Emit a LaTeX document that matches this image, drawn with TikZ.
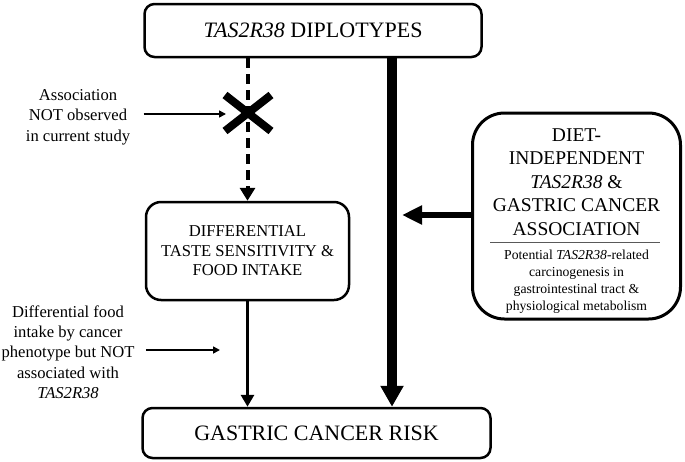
\documentclass[tikz,border=0pt]{standalone}
\usepackage{fontspec}
\setmainfont{LiberationSerif}[Extension=.ttf, UprightFont=*-Regular, ItalicFont=*-Italic,
  BoldFont=*-Bold, BoldItalicFont=*-BoldItalic]
\usetikzlibrary{arrows.meta,calc}
\tikzset{
  box/.style={draw, line width=2.5pt, rounded corners=10pt, align=center, inner sep=0pt},
  note/.style={align=center, font=\fontsize{16.6}{20.3}\selectfont},
  thin arrow/.style={line width=1.6pt, -{Triangle[length=7pt,width=7pt]}},
}
\newcommand{\gene}{\textit{TAS2R38}}

\begin{document}
\begin{tikzpicture}[x=1pt, y=-1pt]
  \useasboundingbox (0,0) rectangle (685,461);

  % boxes
  \node[box, minimum width=337pt, minimum height=53pt,
        font=\fontsize{22}{24}\selectfont] (diplo) at (313,30.5) {\gene{} DIPLOTYPES};
  \node[box, minimum width=348pt, minimum height=50pt,
        font=\fontsize{22}{24}\selectfont] (risk) at (316.5,433) {GASTRIC CANCER RISK};
  \node[box, rounded corners=15pt, minimum width=203pt, minimum height=98pt,
        font=\fontsize{16.6}{19.5}\selectfont] (taste) at (247.5,251)
        {DIFFERENTIAL\\TASTE SENSITIVITY \&\\FOOD INTAKE};
  \node[box, line width=3pt, rounded corners=32pt, minimum width=208pt, minimum height=206pt]
        (diet) at (576.5,216) {};
  \node[align=center, font=\fontsize{19.5}{23.5}\selectfont] (dietTitle) at (576.5,182)
        {DIET-\\INDEPENDENT\\\gene{} \&\\GASTRIC CANCER\\ASSOCIATION};
  \node[align=center, font=\fontsize{13.7}{17}\selectfont] (dietNote) at (576.5,282)
        {Potential \gene{}-related\\carcinogenesis in\\gastrointestinal tract \&\\physiological metabolism};
  \draw[line width=1pt, gray!70!black] (490,242) -- (660,242);

  % side notes
  \node[note] (assoc) at (78,117) {Association\\NOT observed\\in current study};
  \node[note] (food) at (68,352) {Differential food\\intake by cancer\\phenotype but NOT\\associated with\\\gene};

  % connectors
  \coordinate (cross) at (248,113);
  \coordinate (thick) at (392,0);
  \draw[line width=4pt, dash pattern=on 10pt off 6pt, -{Triangle[length=13pt,width=15pt]}]
    (diplo.south -| taste.north) -- (taste.north);
  \draw[line width=8pt] ($(cross)+(-23,-18)$) -- ($(cross)+(23,18)$)
                        ($(cross)+(-23,18)$) -- ($(cross)+(23,-18)$);
  \draw[line width=3pt, -{Triangle[length=12pt,width=13pt]}] (taste.south) -- (taste.south |- risk.north);
  \draw[line width=10pt, -{Triangle[length=21pt,width=22pt]}] (diplo.south -| thick) -- (risk.north -| thick);
  \draw[line width=6.5pt, -{Triangle[length=20pt,width=18pt]}] (diet.west |- 0,215) -- ++(-69,0);
  \draw[thin arrow] ([xshift=10pt]assoc.east |- 0,114) -- ($(cross)+(-22,1)$);
  \draw[thin arrow] ([xshift=8pt]food.east |- 0,350) -- (220,350);
\end{tikzpicture}
\end{document}
